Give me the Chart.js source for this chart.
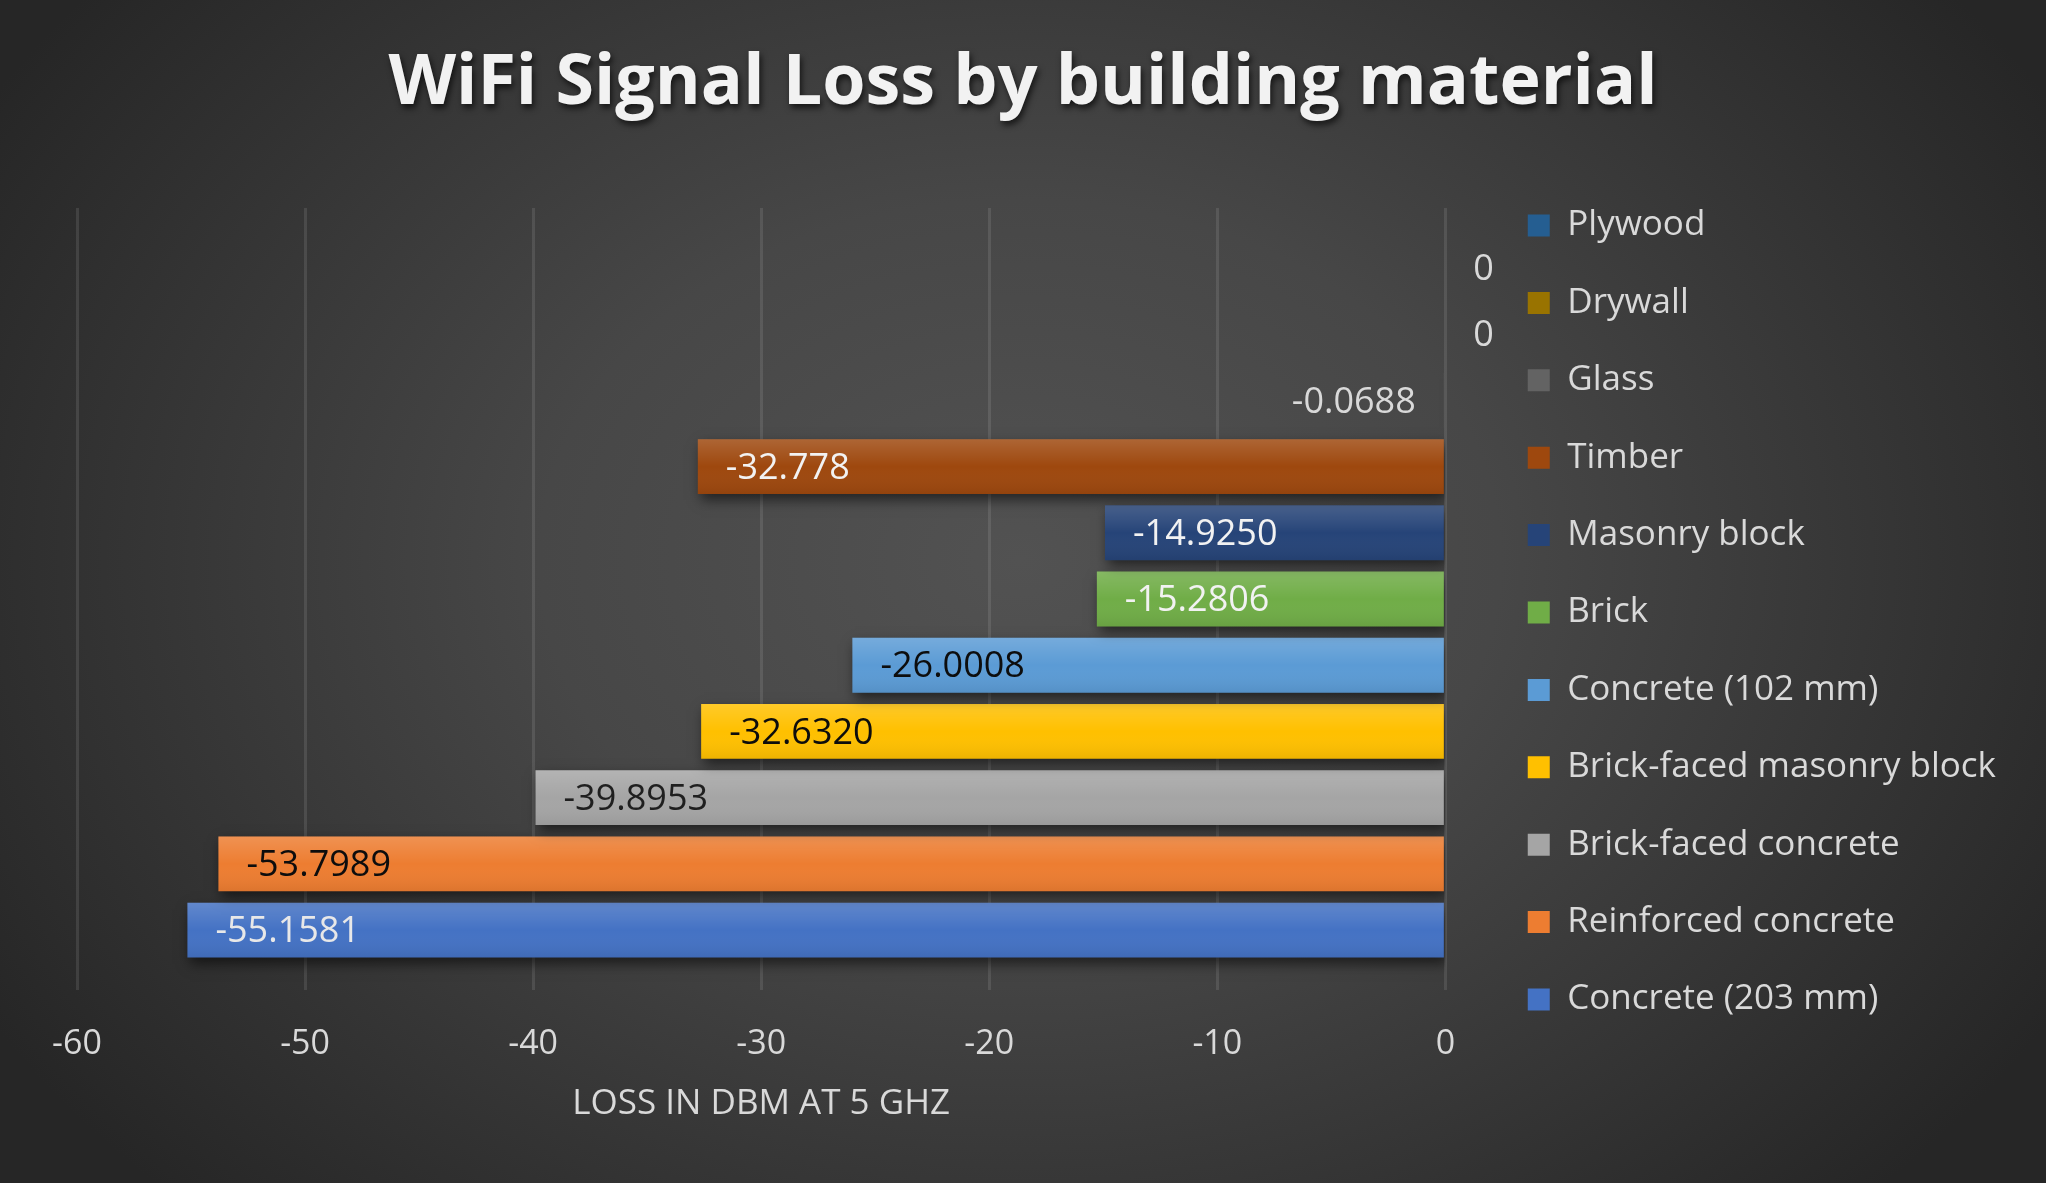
<!DOCTYPE html>
<html>
<head>
<meta charset="utf-8">
<script src="https://cdn.jsdelivr.net/npm/chart.js@4.4.1/dist/chart.umd.min.js"></script>
<style>
html, body { margin: 0; padding: 0; width: 2046px; height: 1183px; overflow: hidden; }
body { background: radial-gradient(ellipse 1200px 900px at 1020px 560px, #525252 0%, #474747 40%, #262626 100%); }
#c { position: absolute; left: 0; top: 0; }
</style>
</head>
<body>
<canvas id="c" width="2046" height="1183"></canvas>
<script>
// ---- data ----
const chartTitle = 'WiFi Signal Loss by building material';
const axisTitle = 'LOSS IN DBM AT 5 GHZ';
const materials = ['Plywood', 'Drywall', 'Glass', 'Timber', 'Masonry block', 'Brick',
  'Concrete (102 mm)', 'Brick-faced masonry block', 'Brick-faced concrete',
  'Reinforced concrete', 'Concrete (203 mm)'];
const lossDbm = [0, 0, -0.0688, -32.778, -14.9250, -15.2806, -26.0008, -32.6320, -39.8953, -53.7989, -55.1581];
const labelDecimals = [0, 0, 4, 3, 4, 4, 4, 4, 4, 4, 4];
const xTicks = [-60, -50, -40, -30, -20, -10, 0];

// ---- styles ----
const seriesColors = ['#255E91', '#997300', '#636363', '#9E480E', '#264478', '#70AD47',
  '#5B9BD5', '#FFC000', '#A5A5A5', '#ED7D31', '#4472C4'];
const labelColors = ['#d9d9d9', '#d9d9d9', '#d9d9d9', '#f2f2f2', '#f2f2f2', '#f2f2f2',
  '#0d0d0d', '#0d0d0d', '#1f1f1f', '#0d0d0d', '#e8e8e8'];
const FONT = '"Open Sans", sans-serif';

const barFx = {
  id: 'barFx',
  afterInit(chart) {
    const t = chart.titleBlock;
    if (t) {
      const orig = t.draw.bind(t);
      t.draw = function (...args) {
        const ctx = chart.ctx;
        ctx.save();
        ctx.shadowColor = 'rgba(0,0,0,0.65)';
        ctx.shadowBlur = 6;
        ctx.shadowOffsetX = 2;
        ctx.shadowOffsetY = 4;
        orig(...args);
        ctx.restore();
      };
    }
  },
  beforeDatasetsDraw(chart) {
    const ctx = chart.ctx;
    ctx.save();
    ctx.shadowColor = 'rgba(0,0,0,0.55)';
    ctx.shadowBlur = 12;
    ctx.shadowOffsetX = 3;
    ctx.shadowOffsetY = 6;
  },
  afterDatasetsDraw(chart) {
    const ctx = chart.ctx;
    ctx.restore();
    // glossy vertical gradient on each bar
    chart.data.datasets.forEach((ds, i) => {
      const el = chart.getDatasetMeta(i).data[0];
      if (!el) return;
      const left = Math.min(el.x, el.base), w = Math.abs(el.x - el.base);
      const top = el.y - el.height / 2;
      if (w <= 0) return;
      const g = ctx.createLinearGradient(0, top, 0, top + el.height);
      g.addColorStop(0, 'rgba(255,255,255,0.16)');
      g.addColorStop(0.5, 'rgba(255,255,255,0.0)');
      g.addColorStop(1, 'rgba(0,0,0,0.07)');
      ctx.fillStyle = g;
      ctx.fillRect(left, top, w, el.height);
    });
    // data labels
    ctx.save();
    ctx.font = '36px ' + FONT;
    ctx.textBaseline = 'middle';
    const pad = 28;
    chart.data.datasets.forEach((ds, i) => {
      const el = chart.getDatasetMeta(i).data[0];
      if (!el) return;
      const v = ds.data[0];
      const text = v.toFixed(labelDecimals[i]);
      const tw = ctx.measureText(text).width;
      const w = Math.abs(el.x - el.base);
      let x, align;
      if (v === 0) { x = el.base + pad; align = 'left'; }
      else if (w >= tw + 2 * pad) { x = el.x + pad; align = 'left'; }
      else { x = el.x - pad; align = 'right'; }
      ctx.textAlign = align;
      ctx.fillStyle = labelColors[i];
      ctx.fillText(text, x, el.y + 2);
    });
    ctx.restore();
  }
};

function build() {
  new Chart(document.getElementById('c'), {
    type: 'bar',
    data: {
      labels: [''],
      datasets: materials.map((m, i) => ({
        label: m,
        data: [lossDbm[i]],
        backgroundColor: seriesColors[i],
        borderColor: 'rgba(0,0,0,0)',
        borderWidth: 0,
        categoryPercentage: 0.9315,
        barPercentage: 0.828
      }))
    },
    options: {
      responsive: false,
      animation: false,
      devicePixelRatio: 1,
      indexAxis: 'y',
      layout: { padding: { left: 40, right: 40, top: 42, bottom: 0 } },
      plugins: {
        title: {
          display: true, text: chartTitle, color: '#f2f2f2',
          font: { family: FONT, size: 70, weight: 'bold' },
          padding: { top: 0, bottom: 82 }
        },
        legend: {
          display: true, position: 'right', align: 'center', maxWidth: 800,
          labels: {
            color: '#d9d9d9', font: { family: FONT, size: 35 },
            boxWidth: 22, boxHeight: 22, padding: 42.4
          }
        },
        tooltip: { enabled: false }
      },
      scales: {
        x: {
          type: 'linear', position: 'bottom',
          min: xTicks[0], max: xTicks[xTicks.length - 1],
          ticks: { stepSize: xTicks[1] - xTicks[0], color: '#d9d9d9', font: { family: FONT, size: 34 }, padding: 34 },
          grid: { color: 'rgba(255,255,255,0.1)', lineWidth: 3, drawTicks: false },
          border: { display: false },
          title: { display: true, text: axisTitle, color: '#d9d9d9', font: { family: FONT, size: 35 }, padding: { top: -15.3, bottom: 57.5 } }
        },
        y: {
          type: 'category', position: 'left',
          ticks: { display: false }, grid: { display: false }, border: { display: false },
          afterFit(s) { s.width = 37; }
        },
        y2: {
          type: 'category', position: 'right',
          ticks: { display: false }, grid: { display: false }, border: { display: false },
          afterFit(s) { s.width = 40; }
        }
      }
    },
    plugins: [barFx]
  });
}

Promise.all([
  document.fonts.load('bold 70px "Open Sans"'),
  document.fonts.load('36px "Open Sans"')
]).then(build, build);
</script>
</body>
</html>
